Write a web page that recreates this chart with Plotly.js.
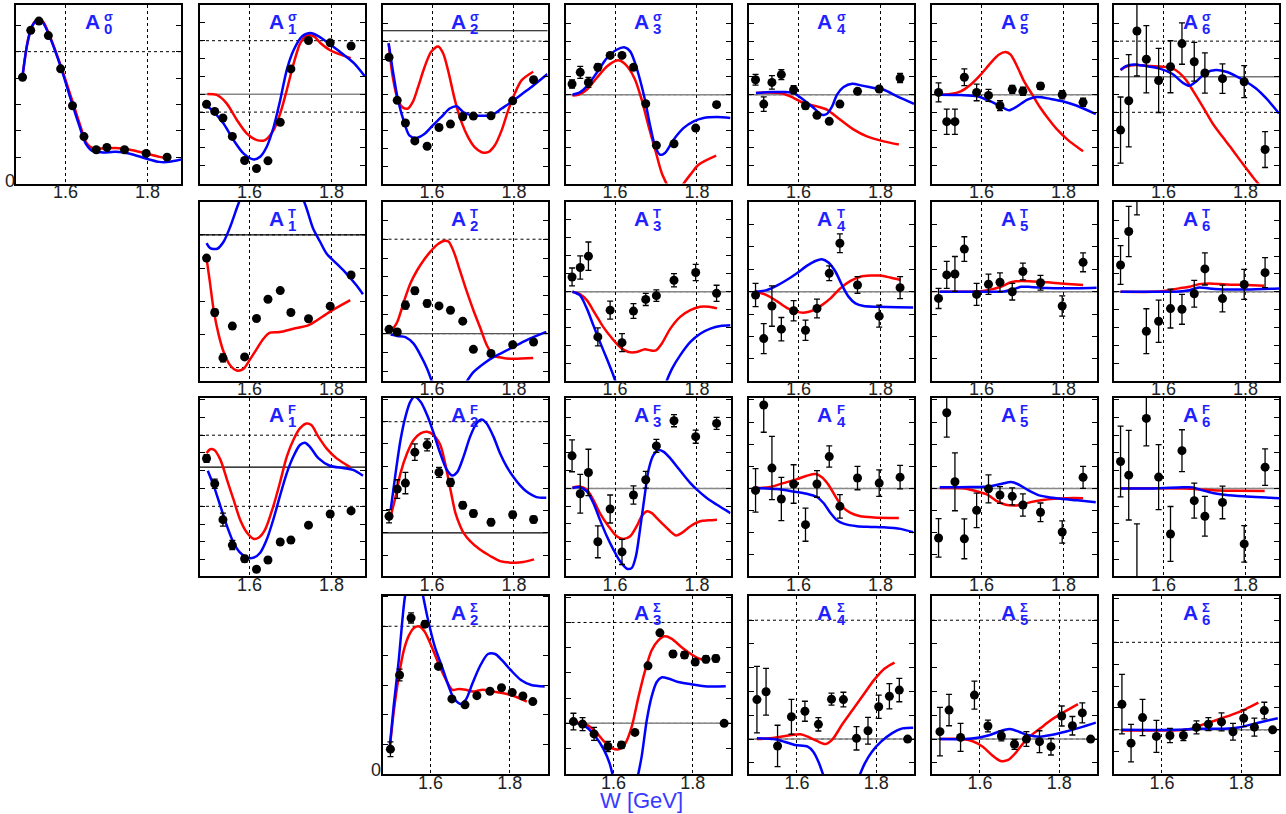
<!DOCTYPE html>
<html><head><meta charset="utf-8">
<script src="https://cdn.plot.ly/plotly-3.0.1.min.js"></script>
<style>html,body{margin:0;padding:0;background:#fff}#chart{width:1286px;height:814px}</style>
</head><body><div id="chart"></div>
<script>
// ---- energy bins (GeV) ----
const W  = [1.495,1.515,1.535,1.558,1.588,1.617,1.645,1.675,1.701,1.744,1.797,1.848];
const WS = [1.499,1.522,1.551,1.586,1.620,1.654,1.687,1.717,1.750,1.779,1.806,1.833,1.858,1.879];
const TICK_VALS = [1.6,1.8];
const TICK_TEXT = ['1.6','1.8'];

// ---- A0 sigma ----
const A0s_y = [4.03,5.81,6.16,5.61,4.35,2.95,1.78,1.28,1.37,1.28,1.14,1.0];
const A0s_rW = [1.495,1.510,1.522,1.535,1.547,1.567,1.592,1.616,1.637,1.651,1.665,1.690,1.722,1.755,1.796,1.829,1.853];
const A0s_r  = [4.08,5.57,6.08,6.27,6.10,5.38,4.30,3.16,2.15,1.54,1.35,1.33,1.35,1.29,1.14,1.01,0.95];
const A0s_bW = [1.495,1.506,1.518,1.531,1.543,1.563,1.588,1.612,1.633,1.649,1.665,1.690,1.722,1.755,1.796,1.829,1.853,1.882];
const A0s_b  = [4.08,5.25,5.95,6.2,6.14,5.5,4.43,3.23,2.22,1.52,1.24,1.18,1.2,1.14,0.95,0.82,0.82,0.91];
// ---- A1 sigma ----
const A1s_y = [-0.56,-0.96,-1.33,-2.36,-3.71,-4.16,-3.73,-1.57,1.42,3.01,2.88,2.70];
const A1s_rW = [1.497,1.520,1.544,1.569,1.593,1.618,1.638,1.659,1.675,1.691,1.708,1.724,1.740,1.757,1.773,1.798,1.847];
const A1s_r  = [0.02,-0.04,-0.51,-1.44,-2.19,-2.57,-2.57,-2.0,-1.07,0.24,1.74,2.87,3.28,3.24,2.87,2.45,2.02];
const A1s_bW = [1.491,1.512,1.536,1.561,1.585,1.610,1.626,1.642,1.659,1.675,1.691,1.708,1.728,1.749,1.769,1.798,1.830,1.855,1.882];
const A1s_b  = [-0.56,-0.97,-1.63,-2.57,-3.31,-3.65,-3.5,-2.94,-1.82,-0.32,1.37,2.49,3.24,3.43,3.24,2.77,2.21,1.74,0.99];
// ---- A2 sigma ----
const A2s_y = [3.10,0.69,-0.58,-1.58,-1.88,-0.83,-0.64,-0.23,-0.19,-0.17,0.66,1.84];
const A2s_rW = [1.494,1.504,1.517,1.529,1.541,1.553,1.566,1.582,1.598,1.615,1.627,1.639,1.656,1.672,1.688,1.704,1.721,1.737,1.753,1.770,1.786,1.802,1.819,1.847];
const A2s_r  = [3.88,2.01,0.69,0.28,0.23,0.6,1.44,2.57,3.41,3.70,3.32,2.38,0.69,-0.53,-1.37,-1.93,-2.21,-2.21,-1.84,-0.99,0.13,1.07,1.82,2.29];
const A2s_bW = [1.494,1.504,1.517,1.533,1.545,1.562,1.582,1.602,1.623,1.643,1.660,1.676,1.696,1.721,1.745,1.770,1.794,1.819,1.843,1.882];
const A2s_b  = [3.88,2.38,0.69,-0.62,-1.28,-1.41,-1.18,-0.71,-0.24,0.23,0.36,0.04,-0.15,-0.17,-0.15,0.23,0.6,1.03,1.44,2.16];
// ---- A3 sigma ----
const A3s_y = [0.60,1.26,0.69,1.54,2.21,2.21,1.54,-0.51,-2.85,-2.76,-1.88,-0.56];
const A3s_e = [0.23,0.34,0.28,0.19,0.15,0.11,0.15,0.11,0.11,0.11,0.11,0.15];
const A3s_rW = [1.496,1.510,1.531,1.555,1.580,1.604,1.616,1.633,1.649,1.665,1.682,1.698,1.714,1.727,1.747,1.763,1.784,1.804,1.847];
const A3s_r  = [-0.04,0,0.28,0.94,1.59,1.93,1.88,1.5,0.84,-0.28,-1.78,-3.1,-4.41,-5.07,-6.0,-5.16,-4.5,-3.94,-3.43];
const A3s_bW = [1.496,1.514,1.531,1.555,1.580,1.604,1.624,1.637,1.649,1.661,1.673,1.686,1.698,1.710,1.722,1.743,1.767,1.792,1.816,1.849,1.882];
const A3s_b  = [0,0.13,0.47,1.22,2.06,2.53,2.66,2.44,1.78,0.84,-0.28,-1.78,-2.91,-3.38,-3.28,-2.53,-1.88,-1.5,-1.31,-1.26,-1.31];
// ---- A4 sigma ----
const A4s_y = [0.84,-0.53,0.69,1.13,0.28,-0.62,-1.16,-1.5,-0.53,0.19,0.32,0.94];
const A4s_e = [0.3,0.41,0.38,0.28,0.23,0.19,0.09,0.09,0.09,0.09,0.09,0.26];
const A4s_rW = [1.496,1.522,1.555,1.580,1.612,1.645,1.669,1.702,1.735,1.767,1.808,1.845];
const A4s_r  = [0.09,0.13,0.09,-0.09,-0.47,-0.66,-0.84,-1.41,-1.97,-2.35,-2.63,-2.81];
const A4s_bW = [1.496,1.531,1.563,1.588,1.612,1.637,1.657,1.669,1.682,1.694,1.710,1.731,1.755,1.784,1.808,1.841,1.882];
const A4s_b  = [0.09,0.15,0.15,0.09,-0.28,-0.75,-1.13,-1.09,-0.66,0,0.43,0.62,0.51,0.38,0.28,-0.09,-0.51];
// ---- A5 sigma ----
const A5s_y = [0.13,-1.52,-1.52,0.98,0.13,-0.04,-0.62,0.3,0.19,0.49,0,-0.43];
const A5s_e = [0.53,0.71,0.71,0.47,0.47,0.34,0.28,0.23,0.23,0.19,0.23,0.23];
const A5s_rW = [1.497,1.524,1.549,1.573,1.598,1.622,1.642,1.659,1.671,1.687,1.704,1.724,1.744,1.765,1.785,1.810,1.848];
const A5s_r  = [0,0.04,0.19,0.56,1.13,1.78,2.25,2.4,2.25,1.59,0.75,0,-0.75,-1.41,-1.97,-2.53,-3.19];
const A5s_bW = [1.497,1.549,1.589,1.622,1.647,1.667,1.687,1.712,1.736,1.769,1.800,1.833,1.879];
const A5s_b  = [0,-0.02,-0.09,-0.38,-0.66,-0.88,-0.66,-0.28,-0.13,-0.24,-0.38,-0.62,-1.09];
// ---- A6 sigma ----
const A6s_y = [-3.0,-1.35,2.57,0.98,-0.21,0.56,1.86,0.84,0.21,-0.11,-0.28,-4.09];
const A6s_e = [1.86,2.59,2.53,1.89,1.8,1.46,1.16,1.09,1.13,0.83,0.9,1.01];
const A6s_rW = [1.495,1.508,1.532,1.565,1.598,1.622,1.638,1.655,1.671,1.696,1.720,1.744,1.769,1.793,1.818,1.838];
const A6s_r  = [0.38,0.56,0.66,0.6,0.56,0.47,0.23,-0.19,-0.75,-1.69,-2.63,-3.38,-4.13,-4.88,-5.63,-6.19];
const A6s_bW = [1.495,1.508,1.528,1.557,1.589,1.622,1.647,1.663,1.679,1.704,1.728,1.753,1.777,1.802,1.826,1.851,1.882];
const A6s_b  = [0.38,0.6,0.69,0.6,0.47,0.15,-0.34,-0.51,-0.28,0.23,0.38,0.28,0.04,-0.28,-0.66,-1.22,-2.06];

// ---- A1 T ----
const A1T_y = [-0.70,-2.34,-3.71,-2.75,-3.68,-2.52,-1.94,-1.68,-2.34,-2.53,-2.15,-1.21];
const A1T_e = [0,0.1,0.12,0.08,0,0,0,0,0,0,0,0];
const A1T_rW = [1.495,1.503,1.513,1.525,1.537,1.553,1.569,1.585,1.602,1.618,1.634,1.650,1.674,1.707,1.743,1.764,1.796,1.846];
const A1T_r  = [-0.71,-1.41,-2.32,-3.03,-3.54,-3.94,-4.09,-4.04,-3.74,-3.43,-3.13,-2.95,-2.93,-2.83,-2.73,-2.58,-2.32,-1.97];
const A1T_bW = [1.495,1.504,1.521,1.537,1.553,1.569,1.581,1.65,1.727,1.739,1.755,1.772,1.788,1.812,1.836,1.861,1.877];
const A1T_b  = [-0.25,-0.40,-0.42,-0.20,0.25,0.81,1.21,null,1.21,0.81,0.2,-0.2,-0.56,-0.86,-1.16,-1.52,-1.79];
// ---- A2 T ----
const A2T_y = [0.23,0.09,1.51,2.27,1.6,1.47,1.24,0.66,-0.83,-1.05,-0.59,-0.44];
const A2T_e = [0.14,0.14,0.21,0.18,0.18,0,0,0,0,0,0,0];
const A2T_rW = [1.499,1.515,1.531,1.547,1.564,1.580,1.596,1.612,1.628,1.640,1.653,1.669,1.685,1.701,1.717,1.734,1.750,1.774,1.798,1.847];
const A2T_r  = [0.09,0.62,1.68,2.66,3.37,3.9,4.34,4.7,4.91,4.88,4.34,3.28,2.22,1.24,0.35,-0.62,-1.15,-1.29,-1.33,-1.29];
const A2T_bW = [1.499,1.515,1.535,1.555,1.572,1.588,1.604,1.64,1.677,1.701,1.725,1.750,1.774,1.798,1.830,1.879];
const A2T_b  = [-0.05,-0.12,-0.18,-0.53,-1.15,-1.86,-2.8,null,-2.8,-2.04,-1.6,-1.24,-0.98,-0.71,-0.35,0.09];
// ---- A3 T ----
const A3T_y = [0.82,1.35,1.98,-2.52,-1.03,-2.84,-1.08,-0.43,-0.22,0.64,1.07,-0.09];
const A3T_e = [0.5,0.65,0.79,0.5,0.5,0.5,0.41,0.34,0.32,0.37,0.45,0.45];
const A3T_rW = [1.496,1.514,1.531,1.551,1.571,1.592,1.612,1.633,1.653,1.673,1.686,1.700,1.714,1.735,1.759,1.784,1.808,1.829,1.849];
const A3T_r  = [0,-0.13,-0.47,-1.21,-1.96,-2.58,-3.08,-3.36,-3.36,-3.21,-3.27,-3.27,-2.9,-2.06,-1.4,-1.03,-0.84,-0.84,-0.93];
const A3T_bW = [1.496,1.514,1.531,1.547,1.563,1.580,1.596,1.604,1.66,1.722,1.739,1.759,1.784,1.808,1.833,1.857,1.882];
const A3T_b  = [0,-0.19,-0.93,-1.87,-2.8,-3.74,-4.67,-5.2,null,-5.2,-4.3,-3.55,-2.8,-2.34,-2.06,-1.91,-1.87];
// ---- A4 T ----
const A4T_y = [-0.15,-2.09,-0.64,-1.67,-0.85,-1.72,-0.75,0.82,2.16,0.3,-1.09,0.18];
const A4T_e = [0.52,0.67,0.9,0.52,0.45,0.45,0.42,0.33,0.42,0.37,0.49,0.49];
const A4T_rW = [1.496,1.522,1.547,1.571,1.596,1.616,1.637,1.657,1.678,1.702,1.727,1.751,1.776,1.8,1.824,1.849];
const A4T_r  = [0,-0.15,-0.42,-0.72,-0.9,-0.93,-0.82,-0.6,-0.3,0.15,0.48,0.67,0.72,0.72,0.63,0.52];
const A4T_bW = [1.496,1.522,1.547,1.571,1.596,1.620,1.641,1.657,1.673,1.690,1.706,1.722,1.739,1.759,1.792,1.841,1.880];
const A4T_b  = [0,0.07,0.27,0.52,0.82,1.15,1.37,1.45,1.3,0.9,0.3,-0.22,-0.52,-0.64,-0.67,-0.69,-0.7];
// ---- A5 T ----
const A5T_y = [-0.3,0.75,0.79,1.9,-0.12,0.33,0.42,0,0.9,0.4,-0.64,1.31];
const A5T_e = [0.45,0.6,0.78,0.55,0.49,0.45,0.42,0.37,0.37,0.33,0.45,0.42];
const A5T_rW = [1.498,1.574,1.615,1.647,1.672,1.696,1.728,1.761,1.793,1.848];
const A5T_r  = [0,0,0.07,0.22,0.42,0.48,0.45,0.42,0.37,0.3];
const A5T_bW = [1.498,1.615,1.655,1.680,1.696,1.720,1.761,1.802,1.881];
const A5T_b  = [0,0,0.01,0.12,0.22,0.21,0.16,0.15,0.18];
// ---- A6 T ----
const A6T_y = [1.5,3.38,5.44,-2.21,-1.65,-0.94,-0.98,-0.11,1.28,-0.38,0.41,1.07];
const A6T_e = [1.09,1.41,1.13,1.26,1.18,1.09,0.84,0.75,0.9,0.75,0.84,0.84];
const A6T_rW = [1.495,1.573,1.606,1.638,1.663,1.687,1.712,1.753,1.802,1.846];
const A6T_r  = [0,0,0.06,0.19,0.28,0.43,0.47,0.41,0.38,0.34];
const A6T_bW = [1.495,1.638,1.663,1.687,1.712,1.753,1.802,1.882];
const A6T_b  = [0,0.02,0.09,0.24,0.19,0.13,0.13,0.19];

// ---- A1 F ----
const A1F_y = [2.69,1.27,-0.75,-2.18,-2.95,-3.54,-3.02,-2.01,-1.9,-1.06,-0.43,-0.26];
const A1F_e = [0.22,0.26,0.37,0.26,0.19,0.15,0.15,0,0.15,0,0,0];
const A1F_rW = [1.495,1.504,1.514,1.529,1.545,1.561,1.577,1.594,1.610,1.622,1.638,1.658,1.674,1.691,1.707,1.723,1.739,1.751,1.768,1.788,1.812,1.846];
const A1F_r  = [2.99,3.21,3.17,2.61,1.49,0.37,-0.75,-1.49,-1.83,-1.77,-1.31,0,1.31,2.8,3.73,4.38,4.66,4.57,3.92,3.26,2.71,2.2];
const A1F_bW = [1.498,1.513,1.529,1.545,1.561,1.577,1.594,1.610,1.626,1.642,1.658,1.674,1.691,1.707,1.723,1.735,1.747,1.768,1.796,1.828,1.853,1.877];
const A1F_b  = [2.0,1.12,0,-1.12,-2.05,-2.61,-2.89,-2.89,-2.61,-1.87,-0.75,0.56,1.87,2.8,3.45,3.58,3.36,2.71,2.28,2.15,2.05,1.72];
// ---- A2 F ----
const A2F_y = [0.75,1.97,2.24,3.63,3.96,2.72,2.27,1.24,0.87,0.48,0.82,0.6];
const A2F_e = [0.3,0.42,0.48,0.37,0.27,0.22,0.18,0.15,0.15,0.15,0.15,0.15];
const A2F_rW = [1.499,1.511,1.523,1.539,1.555,1.572,1.588,1.604,1.620,1.632,1.645,1.657,1.669,1.677,1.693,1.717,1.742,1.766,1.798,1.823,1.849];
const A2F_r  = [0.75,1.64,2.69,3.58,4.18,4.48,4.55,4.4,3.96,3.13,1.94,0.9,0.3,0,-0.37,-0.75,-1.04,-1.27,-1.34,-1.31,-1.19];
const A2F_bW = [1.499,1.511,1.523,1.535,1.547,1.557,1.572,1.588,1.604,1.620,1.636,1.649,1.661,1.677,1.693,1.709,1.721,1.733,1.750,1.766,1.782,1.798,1.814,1.830,1.855,1.879];
const A2F_b  = [1.04,2.69,4.18,5.22,5.9,6.12,5.9,5.3,4.48,3.58,2.84,2.58,2.72,3.43,4.33,4.93,5.1,4.93,4.33,3.58,2.99,2.54,2.16,1.87,1.61,1.58];
// ---- A3 F ----
const A3F_y = [1.84,-0.3,0.9,-3.01,-1.16,-3.58,-0.37,0.49,2.4,3.82,2.92,3.67];
const A3F_e = [0.9,1.09,1.31,0.9,0.79,0.71,0.52,0.47,0.37,0.34,0.37,0.34];
const A3F_rW = [1.496,1.514,1.531,1.547,1.563,1.584,1.604,1.620,1.637,1.653,1.665,1.678,1.690,1.702,1.718,1.735,1.749,1.763,1.784,1.808,1.829,1.849];
const A3F_r  = [0.06,0.11,-0.07,-0.64,-1.39,-2.13,-2.7,-2.85,-2.7,-2.13,-1.57,-1.29,-1.39,-1.67,-2.04,-2.42,-2.66,-2.51,-2.13,-1.85,-1.8,-1.76];
const A3F_bW = [1.496,1.514,1.531,1.547,1.563,1.580,1.596,1.612,1.629,1.641,1.651,1.661,1.671,1.682,1.694,1.706,1.718,1.735,1.751,1.767,1.784,1.8,1.824,1.849,1.882];
const A3F_b  = [0.02,0.07,-0.17,-0.82,-1.76,-2.7,-3.45,-4.1,-4.53,-4.48,-3.82,-2.32,-0.64,1.05,1.89,2.17,2.08,1.7,1.24,0.77,0.3,-0.07,-0.54,-0.92,-1.39];
// ---- A4 F ----
const A4F_y = [-0.09,3.77,0.92,-0.48,0.2,-1.64,0.2,1.44,-0.81,0.47,0.24,0.51];
const A4F_e = [0.98,1.23,1.43,0.98,0.87,0.75,0.6,0.48,0.53,0.53,0.6,0.53];
const A4F_rW = [1.496,1.531,1.563,1.596,1.620,1.641,1.657,1.673,1.690,1.706,1.727,1.751,1.784,1.845];
const A4F_r  = [0.02,0.06,0.24,0.42,0.57,0.65,0.51,0.17,-0.36,-0.81,-1.11,-1.26,-1.31,-1.34];
const A4F_bW = [1.496,1.547,1.588,1.620,1.645,1.661,1.678,1.694,1.710,1.743,1.776,1.808,1.849,1.880];
const A4F_b  = [0.02,-0.03,-0.14,-0.24,-0.39,-0.66,-1.11,-1.44,-1.59,-1.71,-1.74,-1.76,-1.83,-1.98];
// ---- A5 F ----
const A5F_y = [-2.24,3.42,0.3,-2.28,-0.99,-0.02,-0.3,-0.36,-0.75,-1.08,-1.97,0.5];
const A5F_e = [0.87,1.1,1.31,0.9,0.78,0.63,0.38,0.38,0.5,0.42,0.5,0.5];
const A5F_rW = [1.498,1.558,1.590,1.615,1.639,1.659,1.680,1.696,1.720,1.745,1.777,1.810,1.848];
const A5F_r  = [0.02,0,-0.14,-0.29,-0.59,-0.74,-0.77,-0.74,-0.62,-0.54,-0.47,-0.44,-0.44];
const A5F_bW = [1.498,1.574,1.615,1.647,1.672,1.688,1.712,1.737,1.761,1.793,1.834,1.879];
const A5F_b  = [0.05,0.06,0.09,0.2,0.29,0.2,-0.06,-0.29,-0.39,-0.47,-0.54,-0.63];
// ---- A6 F ----
const A6F_y = [1.52,0.75,-6.2,3.95,0.64,-2.57,2.13,-0.69,-1.57,-0.79,-3.13,1.2];
const A6F_e = [2.0,2.53,4.2,1.55,1.83,1.55,1.18,0.99,1.12,0.92,1.03,1.03];
const A6F_rW = [1.495,1.655,1.679,1.704,1.736,1.777,1.847];
const A6F_r  = [0,0,-0.04,-0.07,-0.11,-0.13,-0.15];
const A6F_bW = [1.495,1.573,1.647,1.671,1.696,1.720,1.753,1.802,1.851,1.882];
const A6F_b  = [0,0,0.06,0.06,-0.11,-0.26,-0.37,-0.45,-0.51,-0.56];

// ---- A2 Sigma ----
const A2S_y = [0.84,3.35,5.28,5.07,3.64,2.54,2.34,2.65,2.8,2.92,2.76,2.64,2.45];
const A2S_e = [0.25,0.2,0.17,0.11,0,0,0,0,0,0,0,0,0];
const A2S_rW = [1.497,1.507,1.520,1.533,1.546,1.559,1.572,1.585,1.603,1.620,1.637,1.655,1.672,1.689,1.706,1.732,1.758,1.784,1.810,1.843];
const A2S_r  = [0.82,2.07,3.3,4.2,4.7,4.95,4.99,4.82,4.31,3.75,3.24,2.85,2.88,2.85,2.79,2.85,2.79,2.73,2.64,2.45];
const A2S_bW = [1.497,1.507,1.520,1.529,1.536,1.558,1.581,1.594,1.611,1.629,1.646,1.659,1.676,1.689,1.706,1.724,1.745,1.763,1.780,1.802,1.828,1.854,1.888];
const A2S_b  = [0.88,2.28,3.85,5.2,6.04,7.5,6.04,5.2,4.3,3.63,2.96,2.56,2.37,2.51,3.07,3.63,4.06,4.06,3.85,3.52,3.18,3.01,2.96];
// ---- A3 Sigma ----
const A3S_y = [0.07,-0.03,-0.42,-0.92,-0.86,-0.36,2.28,3.59,2.75,2.71,2.43,2.54,2.57,0];
const A3S_e = [0.33,0.26,0.26,0.2,0.13,0,0,0,0.13,0.13,0.13,0.13,0.13,0];
const A3S_rW = [1.501,1.530,1.555,1.576,1.597,1.613,1.630,1.646,1.663,1.680,1.696,1.713,1.729,1.746,1.771,1.796,1.821,1.837];
const A3S_r  = [0.03,-0.03,-0.33,-0.72,-0.99,-1.03,-0.79,-0.13,1.05,2.11,2.89,3.29,3.45,3.36,3.03,2.74,2.54,2.5];
const A3S_bW = [1.501,1.530,1.555,1.576,1.590,1.600,1.63,1.660,1.671,1.684,1.696,1.709,1.721,1.738,1.763,1.796,1.829,1.883];
const A3S_b  = [0.03,-0.13,-0.53,-1.05,-1.58,-2.2,null,-2.2,-1.32,0.13,1.05,1.64,1.82,1.78,1.64,1.55,1.47,1.47];
// ---- A4 Sigma ----
const A4S_y = [1.66,1.99,-0.29,0.94,1.17,0.62,1.68,1.66,0.03,0.35,1.36,1.8,2.06,0];
const A4S_e = [1.4,0.98,0.87,0.73,0.42,0.28,0.25,0.31,0.49,0.56,0.49,0.53,0.49,0];
const A4S_rW = [1.499,1.532,1.559,1.586,1.609,1.627,1.650,1.672,1.690,1.713,1.740,1.767,1.794,1.821,1.846];
const A4S_r  = [0,0.03,0.1,0.17,0.2,0.1,-0.08,-0.21,0,0.59,1.22,1.85,2.48,2.97,3.22];
const A4S_bW = [1.499,1.541,1.568,1.595,1.627,1.641,1.654,1.668,1.71,1.756,1.771,1.789,1.812,1.839,1.866,1.893];
const A4S_b  = [0.03,0,-0.11,-0.25,-0.32,-0.53,-0.95,-1.6,null,-1.6,-1.02,-0.53,-0.11,0.24,0.45,0.48];
// ---- A5 Sigma ----
const A5S_y = [0.31,1.22,0.07,1.85,0.55,0.13,-0.22,0,-0.11,-0.32,0.97,0.56,1.1,0];
const A5S_e = [1.02,0.66,0.59,0.59,0.25,0.21,0.21,0.31,0.46,0.35,0.42,0.39,0.42,0];
const A5S_rW = [1.499,1.553,1.580,1.607,1.630,1.652,1.671,1.689,1.707,1.725,1.752,1.779,1.806,1.847];
const A5S_r  = [0,0,-0.08,-0.32,-0.67,-0.92,-0.88,-0.6,-0.22,0.1,0.45,0.8,1.08,1.47];
const A5S_bW = [1.499,1.562,1.598,1.625,1.652,1.675,1.698,1.720,1.752,1.779,1.815,1.852,1.892];
const A5S_b  = [0,0,0.07,0.17,0.34,0.42,0.31,0.17,0.1,0.17,0.31,0.48,0.69];
// ---- A6 Sigma ----
const A6S_y = [1.17,-0.61,0.56,-0.3,-0.26,-0.26,0.11,0.26,0.36,-0.09,0.53,0.12,0.88,0];
const A6S_e = [1.36,0.86,0.83,0.73,0.33,0.23,0.3,0.3,0.41,0.38,0.38,0.41,0.38,0];
const A6S_rW = [1.499,1.594,1.639,1.675,1.702,1.738,1.775,1.811,1.843];
const A6S_r  = [-0.03,-0.03,-0.02,0.05,0.23,0.45,0.68,0.95,1.24];
const A6S_bW = [1.499,1.639,1.684,1.720,1.757,1.793,1.829,1.856,1.892];
const A6S_b  = [0,0,0.05,0.05,0.05,0.11,0.26,0.38,0.53];

// ---- panel table (built from the arrays above) ----
const panels = [
 {sup:'σ',sub:'0',row:0,col:0,yr:[0,6.77],grid:[5],solid:null,x:W,y:A0s_y,e:null,rW:A0s_rW,r:A0s_r,bW:A0s_bW,b:A0s_b},
 {sup:'σ',sub:'1',row:0,col:1,yr:[-5,5],grid:[-1,3],solid:[0,'#888',1.5],x:W,y:A1s_y,e:null,rW:A1s_rW,r:A1s_r,bW:A1s_bW,b:A1s_b},
 {sup:'σ',sub:'2',row:0,col:2,yr:[-3.96,6.02],grid:[0,4],solid:[4.58,'#000',1.2],x:W,y:A2s_y,e:null,rW:A2s_rW,r:A2s_r,bW:A2s_bW,b:A2s_b},
 {sup:'σ',sub:'3',row:0,col:3,yr:[-5,5.05],grid:[0],solid:[0,'#888',1.5],x:W,y:A3s_y,e:A3s_e,rW:A3s_rW,r:A3s_r,bW:A3s_bW,b:A3s_b},
 {sup:'σ',sub:'4',row:0,col:4,yr:[-5,5.05],grid:[0],solid:[0,'#888',1.5],x:W,y:A4s_y,e:A4s_e,rW:A4s_rW,r:A4s_r,bW:A4s_bW,b:A4s_b},
 {sup:'σ',sub:'5',row:0,col:5,yr:[-5,5.05],grid:[0],solid:[0,'#888',1.5],x:W,y:A5s_y,e:A5s_e,rW:A5s_rW,r:A5s_r,bW:A5s_bW,b:A5s_b},
 {sup:'σ',sub:'6',row:0,col:6,yr:[-6,4.03],grid:[-2,2],solid:[0,'#777',1.5],x:W,y:A6s_y,e:A6s_e,rW:A6s_rW,r:A6s_r,bW:A6s_bW,b:A6s_b},
 {sup:'T',sub:'1',row:1,col:1,yr:[-4.39,0.99],grid:[0,-4],solid:[0,'#000',1.2],x:W,y:A1T_y,e:A1T_e,rW:A1T_rW,r:A1T_r,bW:A1T_bW,b:A1T_b},
 {sup:'T',sub:'2',row:1,col:2,yr:[-2.48,6.97],grid:[0,5],solid:[0,'#555',1.2],x:W,y:A2T_y,e:A2T_e,rW:A2T_rW,r:A2T_r,bW:A2T_bW,b:A2T_b},
 {sup:'T',sub:'3',row:1,col:3,yr:[-4.95,5.0],grid:[0],solid:[0,'#888',1.5],x:W,y:A3T_y,e:A3T_e,rW:A3T_rW,r:A3T_r,bW:A3T_bW,b:A3T_b},
 {sup:'T',sub:'4',row:1,col:4,yr:[-3.96,4.0],grid:[0],solid:[0,'#888',1.5],x:W,y:A4T_y,e:A4T_e,rW:A4T_rW,r:A4T_r,bW:A4T_bW,b:A4T_b},
 {sup:'T',sub:'5',row:1,col:5,yr:[-3.96,4.0],grid:[0],solid:[0,'#888',1.5],x:W,y:A5T_y,e:A5T_e,rW:A5T_rW,r:A5T_r,bW:A5T_bW,b:A5T_b},
 {sup:'T',sub:'6',row:1,col:6,yr:[-4.97,5.03],grid:[0],solid:[0,'#888',1.5],x:W,y:A6T_y,e:A6T_e,rW:A6T_rW,r:A6T_r,bW:A6T_bW,b:A6T_b},
 {sup:'F',sub:'1',row:2,col:1,yr:[-3.92,6.12],grid:[0,4],solid:[2.2,'#000',1.2],x:W,y:A1F_y,e:A1F_e,rW:A1F_rW,r:A1F_r,bW:A1F_bW,b:A1F_b},
 {sup:'F',sub:'2',row:2,col:2,yr:[-1.94,6.09],grid:[5],solid:[0,'#000',1.2],x:W,y:A2F_y,e:A2F_e,rW:A2F_rW,r:A2F_r,bW:A2F_bW,b:A2F_b},
 {sup:'F',sub:'3',row:2,col:3,yr:[-4.94,5.13],grid:[0],solid:[0,'#888',1.5],x:W,y:A3F_y,e:A3F_e,rW:A3F_rW,r:A3F_r,bW:A3F_bW,b:A3F_b},
 {sup:'F',sub:'4',row:2,col:4,yr:[-3.96,4.11],grid:[0],solid:[0,'#888',1.5],x:W,y:A4F_y,e:A4F_e,rW:A4F_rW,r:A4F_r,bW:A4F_bW,b:A4F_b},
 {sup:'F',sub:'5',row:2,col:5,yr:[-3.96,4.11],grid:[0],solid:[0,'#888',1.5],x:W,y:A5F_y,e:A5F_e,rW:A5F_rW,r:A5F_r,bW:A5F_bW,b:A5F_b},
 {sup:'F',sub:'6',row:2,col:6,yr:[-4.94,5.13],grid:[0],solid:[0,'#888',1.5],x:W,y:A6F_y,e:A6F_e,rW:A6F_rW,r:A6F_r,bW:A6F_bW,b:A6F_b},
 {sup:'Σ',sub:'2',row:3,col:2,yr:[0,6.04],grid:[5],solid:null,x:WS.slice(0,13),y:A2S_y,e:A2S_e,rW:A2S_rW,r:A2S_r,bW:A2S_bW,b:A2S_b},
 {sup:'Σ',sub:'3',row:3,col:3,yr:[-2.01,5.07],grid:[0,4],solid:[0,'#888',1.5],x:WS,y:A3S_y,e:A3S_e,rW:A3S_rW,r:A3S_r,bW:A3S_bW,b:A3S_b},
 {sup:'Σ',sub:'4',row:3,col:4,yr:[-1.47,6.04],grid:[0,5],solid:[0,'#888',1.5],x:WS,y:A4S_y,e:A4S_e,rW:A4S_rW,r:A4S_r,bW:A4S_bW,b:A4S_b},
 {sup:'Σ',sub:'5',row:3,col:5,yr:[-1.47,6.04],grid:[0,5],solid:[0,'#888',1.5],x:WS,y:A5S_y,e:A5S_e,rW:A5S_rW,r:A5S_r,bW:A5S_bW,b:A5S_b},
 {sup:'Σ',sub:'6',row:3,col:6,yr:[-2.02,6.14],grid:[0,4],solid:[0,'#888',1.5],x:WS,y:A6S_y,e:A6S_e,rW:A6S_rW,r:A6S_r,bW:A6S_bW,b:A6S_b}
];

const FW=1286, FH=814;
const COL_LEFT=[16,200,382.5,565.5,749,932,1114], PW=165;
const ROW_TOP=[5,202,397.5,595.5], PH=178.5;
const FONT='"Liberation Sans", Arial, sans-serif';
const TBLUE='#1f1fff';

const traces=[], shapes=[], annotations=[];
const layout={width:FW,height:FH,margin:{l:0,r:0,t:0,b:0},paper_bgcolor:'#fff',plot_bgcolor:'#fff',
  showlegend:false,font:{family:FONT,color:'#222'},shapes,annotations};

const px2x = p=>p/FW, px2y = p=>1-p/FH;

panels.forEach((p,i)=>{
  const k=i+1, sfx=(k===1?'':String(k));
  const xa='x'+sfx, ya='y'+sfx;
  const left=COL_LEFT[p.col], top=ROW_TOP[p.row];
  layout['xaxis'+sfx]={domain:[px2x(left),px2x(left+PW)],range:p.row===3?[1.479,1.895]:[1.479,1.882],anchor:ya,
    tickmode:'array',tickvals:TICK_VALS,ticktext:TICK_TEXT,showgrid:true,gridcolor:'#000',griddash:'dot',gridwidth:1,
    zeroline:false,showline:true,linecolor:'#000',linewidth:2,mirror:true,ticks:'',ticklabelstandoff:-9,
    tickfont:{family:FONT,size:18,color:'#222'},fixedrange:true};
  layout['yaxis'+sfx]={domain:[px2y(top+PH),px2y(top)],range:p.yr,anchor:xa,
    tickmode:'linear',tick0:0,dtick:1,ticks:'inside',ticklen:5,tickwidth:1,tickcolor:'#000',
    showticklabels:false,showgrid:false,zeroline:false,showline:true,linecolor:'#000',linewidth:2,mirror:'ticks',fixedrange:true};
  p.grid.forEach(g=>shapes.push({type:'line',xref:xa+' domain',x0:0,x1:1,yref:ya,y0:g,y1:g,
    line:{color:'#000',width:1,dash:'dot'},layer:'below'}));
  if(p.solid) shapes.push({type:'line',xref:xa+' domain',x0:0,x1:1,yref:ya,y0:p.solid[0],y1:p.solid[0],
    line:{color:p.solid[1],width:p.solid[2]},layer:'below'});
  traces.push({x:p.rW,y:p.r,xaxis:xa,yaxis:ya,mode:'lines',line:{color:'#ff0000',width:2.5,shape:'spline',smoothing:0.8},hoverinfo:'skip'});
  traces.push({x:p.bW,y:p.b,xaxis:xa,yaxis:ya,mode:'lines',line:{color:'#0000ff',width:2.5,shape:'spline',smoothing:0.8},hoverinfo:'skip'});
  const pts={x:p.x,y:p.y,xaxis:xa,yaxis:ya,mode:'markers',marker:{color:'#000',size:9},hoverinfo:'x+y'};
  if(p.e) pts.error_y={type:'data',array:p.e,visible:true,color:'#000',thickness:1.3,width:3};
  traces.push(pts);
  const cx=left+PW/2;
  annotations.push({xref:'paper',yref:'paper',x:px2x(cx+1),y:px2y(top+17),text:'<b>A</b>',showarrow:false,borderpad:0,borderwidth:0,
    xanchor:'right',yanchor:'middle',font:{family:FONT,size:21,color:TBLUE}});
  annotations.push({xref:'paper',yref:'paper',x:px2x(cx+5),y:px2y(top+18),
    text:'<b><span style="font-size:13px">'+p.sup+'</span></b><br><b><span style="font-size:15px">'+p.sub+'</span></b>',
    showarrow:false,borderpad:0,borderwidth:0,align:'left',
    xanchor:'left',yanchor:'middle',font:{family:FONT,size:10,color:TBLUE}});
});

// "0" labels at the bottom of A0σ and A2Σ
annotations.push({xref:'paper',yref:'paper',x:px2x(COL_LEFT[0]-6),y:px2y(ROW_TOP[0]+PH-3),text:'0',showarrow:false,borderpad:0,
  xanchor:'center',yanchor:'middle',font:{family:FONT,size:18,color:'#222'}});
annotations.push({xref:'paper',yref:'paper',x:px2x(COL_LEFT[2]-7),y:px2y(ROW_TOP[3]+PH-4),text:'0',showarrow:false,borderpad:0,
  xanchor:'center',yanchor:'middle',font:{family:FONT,size:18,color:'#222'}});
// axis title
annotations.push({xref:'paper',yref:'paper',x:px2x(641),y:px2y(800),text:'W [GeV]',showarrow:false,borderpad:0,
  xanchor:'center',yanchor:'middle',font:{family:FONT,size:22,color:'#3a3aff'}});

Plotly.newPlot('chart',traces,layout,{staticPlot:true,displayModeBar:false});
</script>
</body></html>
